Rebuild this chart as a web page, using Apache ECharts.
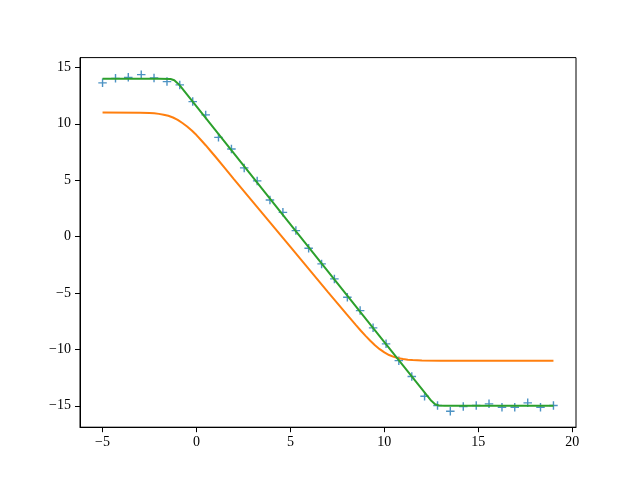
<!DOCTYPE html>
<html>
<head>
    <meta charset="utf-8" />
    <title></title>
    <script src="https://cdn.jsdelivr.net/npm/echarts@6/dist/echarts.min.js" type="text/javascript"></script>
    <style>
        html,body{
    width: 100%;
    height: 100%;
    margin: 0px;
    padding: 0px;
    background: #fff;
  }
  #main{
    width: 640px;
    height: 480px;
  }
  </style>
</head>

<body>
    <div id="main"></div>
</body>
<script type="text/javascript">
    // noisy samples (+ markers)
    var sampleX = [-5, -4.31, -3.63, -2.94, -2.26, -1.57, -0.89, -0.2, 0.49, 1.17, 1.86, 2.54, 3.23, 3.91,
        4.6, 5.29, 5.97, 6.66, 7.34, 8.03, 8.71, 9.4, 10.09, 10.77, 11.46, 12.14, 12.83, 13.51, 14.2,
        14.89, 15.57, 16.26, 16.94, 17.63, 18.31, 19];
    var sampleY = [13.63, 14.03, 14.12, 14.36, 14.07, 13.74, 13.45, 11.97, 10.79, 8.80, 7.77, 6.09, 4.94, 3.25,
        2.15, 0.53, -1.04, -2.42, -3.75, -5.38, -6.56, -8.09, -9.51, -11.0, -12.41, -14.16, -14.98, -15.49, -15.07,
        -14.98, -14.83, -15.13, -15.13, -14.74, -15.13, -14.98];

    // orange curve (initial guess)
    var guessX = [-5, -3, -2.5, -2.25, -2, -1.75, -1.5, -1.25, -1, -0.75, -0.5, -0.25, 0, 0.25, 0.5, 0.75, 1, 1.5, 2, 3, 5, 7,
        8, 8.5, 8.75, 9, 9.25, 9.5, 9.75, 10, 10.25, 10.5, 10.75, 11, 11.25, 11.5, 12, 13, 19];
    var guessY = [11, 10.98, 10.96, 10.93, 10.88, 10.81, 10.71, 10.56, 10.35, 10.07, 9.76, 9.4, 9.0, 8.54, 8.08, 7.59, 7.1,
        6.1, 5.08, 3.08, -0.92, -4.92, -6.9, -7.87, -8.35, -8.8, -9.23, -9.63, -9.98, -10.27, -10.5, -10.66, -10.78,
        -10.86, -10.91, -10.95, -10.98, -11, -11];

    // green curve (fit)
    var fitX = [-5, -2, -1.38, -1.28, -1.18, -1.08, -0.98, -0.88, 0, 5, 10, 12.5, 12.6, 12.7, 12.8, 12.9, 13.2, 19];
    var fitY = [14, 14, 13.97, 13.93, 13.86, 13.73, 13.56, 13.38, 11.54, 1.09, -9.36, -14.56, -14.73, -14.86, -14.94, -14.97, -15, -15];

    var xTicks = [-5, 0, 5, 10, 15, 20];
    var yTicks = [-15, -10, -5, 0, 5, 10, 15];

    function pairs(xs, ys) {
        return xs.map(function (x, i) { return [x, ys[i]]; });
    }
    function fmt(v) {
        return String(v).replace('-', '\u2212');
    }

    var labelStyle = {
        color: '#000',
        fontFamily: 'Liberation Serif',
        fontSize: 14,
        formatter: fmt
    };

    var myChart = echarts.init(document.getElementById('main'));
    myChart.setOption({
        animation: false,
        backgroundColor: '#fff',
        grid: {
            left: 80,
            right: 64,
            top: 57.6,
            bottom: 52.8,
            show: true,
            borderColor: '#000',
            borderWidth: 1
        },
        xAxis: {
            type: 'value',
            min: -6.2,
            max: 20.2,
            axisLine: { onZero: false, lineStyle: { color: '#000', width: 1 } },
            axisTick: { length: 5, customValues: xTicks, lineStyle: { color: '#000', width: 1 } },
            axisLabel: Object.assign({ margin: 8, customValues: xTicks }, labelStyle),
            splitLine: { show: false }
        },
        yAxis: {
            type: 'value',
            min: -16.9,
            max: 15.87,
            axisLine: { show: true, onZero: false, lineStyle: { color: '#000', width: 1 } },
            axisTick: { show: true, length: 5, customValues: yTicks, lineStyle: { color: '#000', width: 1 } },
            axisLabel: Object.assign({ margin: 9, customValues: yTicks }, labelStyle),
            splitLine: { show: false }
        },
        series: [{
            type: 'scatter',
            data: pairs(sampleX, sampleY),
            symbol: 'path://M0,-1L0,1M-1,0L1,0',
            symbolSize: 8.5,
            itemStyle: {
                color: 'rgba(0,0,0,0)',
                borderColor: '#1f77b4',
                borderWidth: 1.4
            }
        }, {
            type: 'line',
            data: pairs(guessX, guessY),
            showSymbol: false,
            lineStyle: { color: '#ff7f0e', width: 2 }
        }, {
            type: 'line',
            data: pairs(fitX, fitY),
            showSymbol: false,
            lineStyle: { color: '#2ca02c', width: 2 }
        }]
    });
</script>

</html>
